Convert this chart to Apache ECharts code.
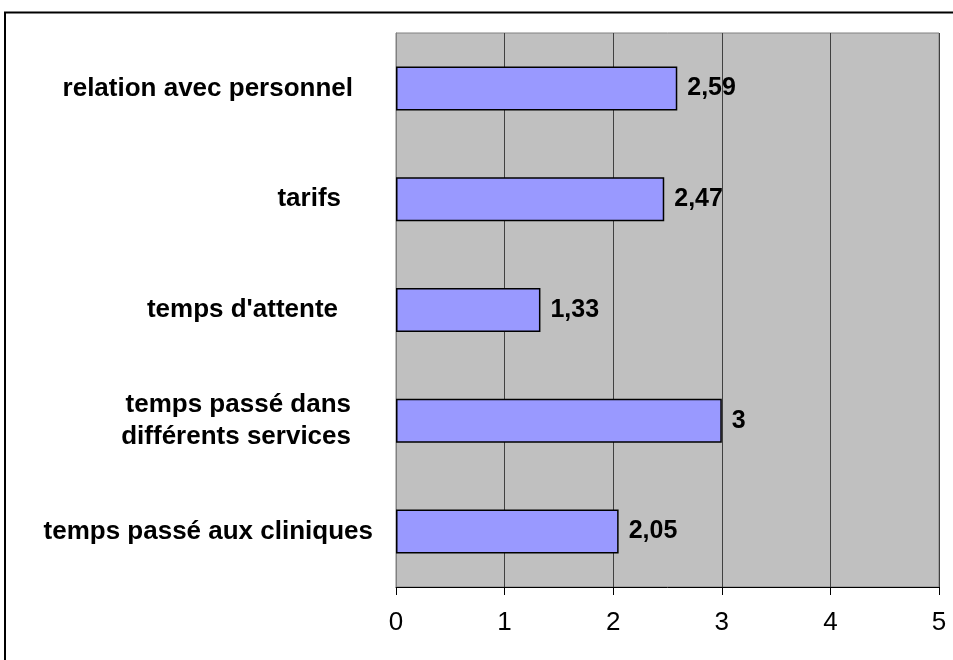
<!DOCTYPE html>
<html>
<head>
<meta charset="utf-8">
<script src="https://cdn.jsdelivr.net/npm/echarts@6/dist/echarts.min.js"></script>
<style>
  html, body { margin: 0; padding: 0; background: #fff; }
  #chart { width: 953px; height: 660px; }
</style>
</head>
<body>
<div id="chart"></div>
<script>
// Satisfaction categories, top to bottom
const categories = [
  'relation avec personnel',
  'tarifs',
  "temps d'attente",
  'temps passé dans\ndifférents services',
  'temps passé aux cliniques'
];
// Mean scores per category
const scores = [2.59, 2.47, 1.33, 3, 2.05];
// Value axis range
const axisMin = 0;
const axisMax = 5;
const axisStep = 1;

// Extra right padding for each category label
const labelPads = [20, 32, 35, 22, 0];

const chart = echarts.init(document.getElementById('chart'), null, { renderer: 'canvas' });

const fontFamily = '"Liberation Sans", Arial, sans-serif';

chart.setOption({
  animation: false,
  backgroundColor: '#ffffff',
  grid: {
    left: 396,
    top: 33,
    right: 14,
    bottom: 73,
    show: true,
    backgroundColor: '#C0C0C0',
    borderColor: '#808080',
    borderWidth: 1
  },
  xAxis: {
    type: 'value',
    min: axisMin,
    max: axisMax,
    interval: axisStep,
    axisLine: { show: true, lineStyle: { color: '#000', width: 1 } },
    axisTick: { show: true, length: 8, lineStyle: { color: '#000' } },
    axisLabel: {
      color: '#000',
      fontSize: 26,
      fontFamily: fontFamily,
      margin: 23
    },
    splitLine: { show: true, lineStyle: { color: '#404040', width: 1 } }
  },
  yAxis: {
    type: 'category',
    inverse: true,
    data: categories.map((c, i) => ({
      value: c,
      textStyle: { padding: [2, labelPads[i], 0, 0] }
    })),
    axisLine: { show: true, lineStyle: { color: '#808080' } },
    axisTick: { show: false },
    axisLabel: {
      color: '#000',
      fontSize: 26,
      fontWeight: 'bold',
      fontFamily: fontFamily,
      margin: 23,
      lineHeight: 32,
      align: 'right'
    }
  },
  series: [{
    type: 'bar',
    data: scores,
    barWidth: 44,
    itemStyle: {
      color: '#9999FF',
      borderColor: '#000',
      borderWidth: 1.5
    },
    label: {
      show: true,
      position: 'right',
      distance: 10,
      color: '#000',
      fontSize: 25,
      fontWeight: 'bold',
      fontFamily: fontFamily,
      formatter: p => String(p.value).replace('.', ',')
    }
  }],
  graphic: [{
    type: 'rect',
    silent: true,
    shape: { x: 5, y: 12.5, width: 1000, height: 1000 },
    style: { fill: 'none', stroke: '#000', lineWidth: 2 }
  }]
});
</script>
</body>
</html>
